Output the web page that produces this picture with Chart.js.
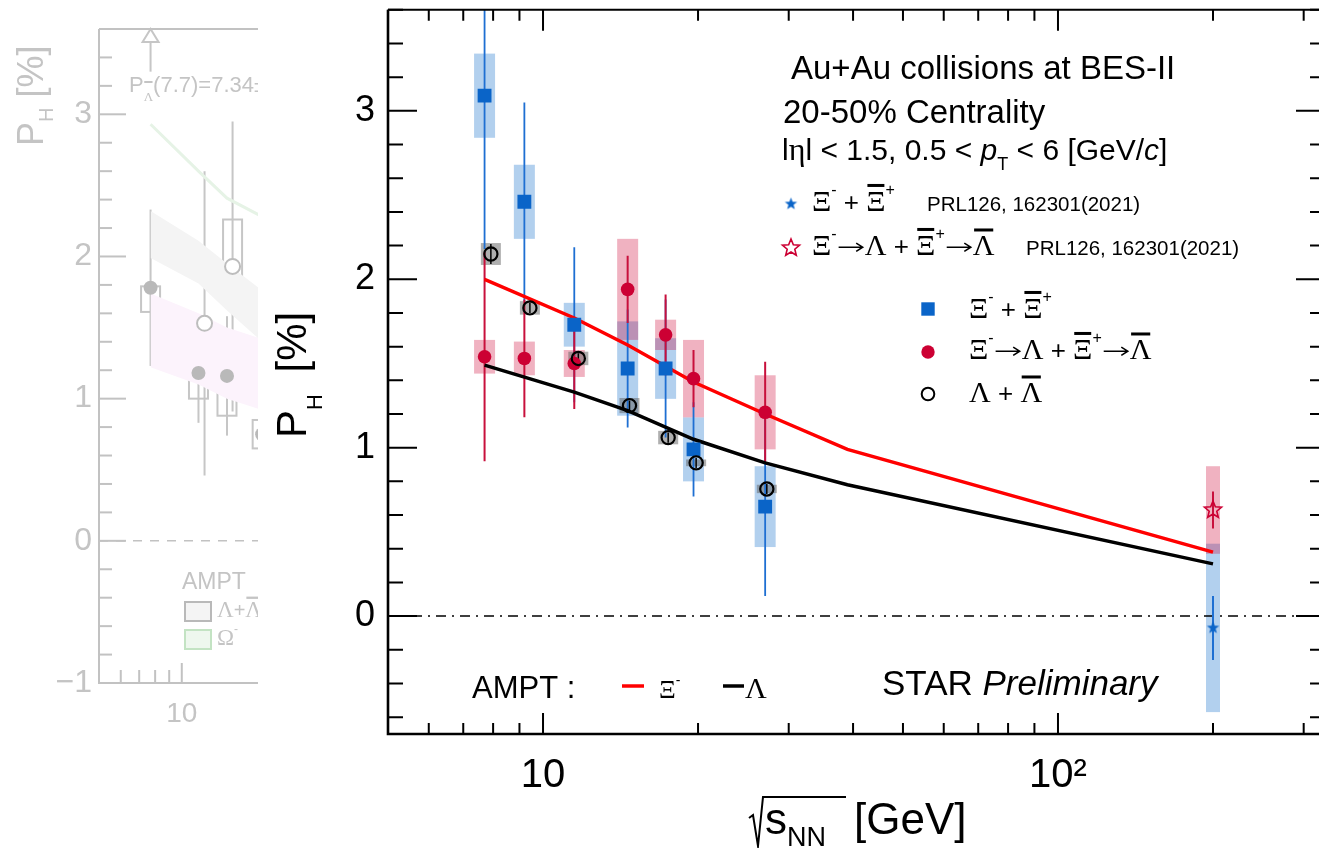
<!DOCTYPE html>
<html>
<head>
<meta charset="utf-8">
<script src="https://cdn.jsdelivr.net/npm/chart.js@4.4.1/dist/chart.umd.min.js"></script>
<style>
  html, body { margin: 0; padding: 0; background: #fff; overflow: hidden; width: 1319px; height: 848px; }
  #ghostBox { position: absolute; left: 0; top: 0; width: 258px; height: 848px; overflow: hidden; }
  #ghost { position: absolute; left: 0; top: 0; }
  #main { position: absolute; left: 258px; top: 0; }
</style>
</head>
<body>
<div id="ghostBox"><canvas id="ghost" width="660" height="848"></canvas></div>
<canvas id="main" width="1080" height="848"></canvas>
<script>
const SANS = '"Liberation Sans", Arial, Helvetica, sans-serif';
const SERIF = '"Liberation Serif", "DejaVu Serif", "Times New Roman", serif';

// ---------- STAR BES-II points (sqrt(s_NN) in GeV, P_H in %) ----------
const energy = [7.7, 9.2, 11.5, 14.6, 17.3, 19.6, 27];
const xiPol  = [3.09, 2.46, 1.73, 1.47, 1.47, 0.99, 0.65];
const xiStat = [0.91, 0.59, 0.46, 0.35, 0.41, 0.28, 0.53];
const xiSys  = [0.25, 0.22, 0.13, 0.28, 0.18, 0.19, 0.24];

const xiLamPol  = [1.54, 1.53, 1.50, 1.94, 1.67, 1.41, 1.21];
const xiLamStat = [0.62, 0.35, 0.27, 0.20, 0.24, 0.17, 0.30];
const xiLamSys  = [0.10, 0.10, 0.08, 0.30, 0.09, 0.23, 0.22];

// Lambda points sit a little to the right of the nominal energies
const lamEnergy = [7.92, 9.43, 11.71, 14.72, 17.5, 19.83, 27.2];
const lamPol  = [2.15, 1.83, 1.53, 1.25, 1.06, 0.91, 0.755];
const lamStat = [0.06, 0.03, 0.03, 0.03, 0.03, 0.03, 0.03];
const lamSys  = [0.065, 0.04, 0.04, 0.045, 0.04, 0.02, 0.025];

// PRL126, 162301(2021), 200 GeV
const prlEnergy = [200];
const prlXiPol = [-0.07], prlXiStat = [0.19], prlXiSys = [0.50];
const prlXiLamPol = [0.63], prlXiLamStat = [0.11], prlXiLamSys = [0.26];

// AMPT curves
const amptEnergy = [7.7, 11.5, 14.6, 19.6, 27, 39, 200];
const amptXi  = [2.00, 1.77, 1.61, 1.39, 1.20, 0.99, 0.38];
const amptLam = [1.49, 1.33, 1.22, 1.05, 0.91, 0.78, 0.31];

const xTicks = [10, 100];
const xTickLabels = ['10', '10²'];
const yTicks = [0, 1, 2, 3];
const yTickLabels = ['0', '1', '2', '3'];

// ---------- faded panel on the left ----------
const gFilledE = [7.7, 11.5, 14.6, 19.6];
const gFilledP = [1.78, 1.18, 1.16, 0.75];
const gFilledStat = [0.55, 0.35, 0.42, 0.40];
const gFilledLo = [1.61, 1.00, 0.88, 0.65];
const gFilledHi = [1.79, 1.17, 1.15, 0.85];
const gOpenE = [12.1, 15.3];
const gOpenP = [1.53, 1.93];
const gOpenStat = [1.07, 1.02];
const gOpenLo = [1.40, 1.80];
const gOpenHi = [1.53, 2.26];
const gBandE = [7.7, 11.5, 14.6, 19.6];
const gGreyHi = [2.32, 2.11, 1.95, 1.76];
const gGreyLo = [1.99, 1.81, 1.62, 1.40];
const gPinkHi = [1.74, 1.60, 1.50, 1.42];
const gPinkLo = [1.22, 1.10, 1.00, 0.92];
const gGreen  = [2.93, 2.60, 2.41, 2.28];
const gYTicks = [-1, 0, 1, 2, 3];
const gYTickLabels = ['\u22121', '0', '1', '2', '3'];
const gXTicks = [10];

const OX = 258; // page x of the main canvas

const pts = (xs, ys) => xs.map((x, i) => ({ x, y: ys[i] }));

function makeStar(outer, inner, fill, stroke, lw) {
  const s = Math.ceil(2 * outer + lw + 2);
  const c = document.createElement('canvas');
  c.width = c.height = s;
  const g = c.getContext('2d');
  g.beginPath();
  for (let i = 0; i < 10; i++) {
    const r = i % 2 ? inner : outer;
    const a = -Math.PI / 2 + i * Math.PI / 5;
    g.lineTo(s / 2 + r * Math.cos(a), s / 2 + r * Math.sin(a));
  }
  g.closePath();
  if (fill) { g.fillStyle = fill; g.fill(); }
  if (stroke) { g.strokeStyle = stroke; g.lineWidth = lw; g.stroke(); }
  return c;
}
const blueStar = makeStar(6.5, 2.7, '#0a64c8', null, 0);
const redStar = makeStar(9, 4, null, '#cc0033', 1.6);

// draw a run of text pieces (sub/superscripts, greek, overbars, arrows)
function runs(ctx, x, y, parts, size) {
  let cx = x;
  for (const p of parts) {
    const fs = p.sz || size;
    if (p.arrow) {
      const ay = y - fs * 0.3, x0 = cx + 2, x1 = cx + p.w - 2;
      ctx.save();
      ctx.strokeStyle = ctx.fillStyle;
      ctx.lineWidth = Math.max(1.4, fs * 0.06);
      ctx.beginPath();
      ctx.moveTo(x0, ay); ctx.lineTo(x1, ay);
      ctx.moveTo(x1 - fs * 0.25, ay - fs * 0.16); ctx.lineTo(x1, ay); ctx.lineTo(x1 - fs * 0.25, ay + fs * 0.16);
      ctx.stroke();
      ctx.restore();
      cx += p.w;
      continue;
    }
    ctx.font = (p.it ? 'italic ' : '') + fs + 'px ' + (p.serif ? SERIF : SANS);
    const w = ctx.measureText(p.t).width;
    ctx.fillText(p.t, cx, y + (p.dy || 0));
    if (p.bar) ctx.fillRect(cx + w * 0.06, y - p.bar, w * 0.88, Math.max(2, fs * 0.1));
    cx += w + (p.gap || 0);
  }
  return cx;
}

function formula(tokens, size) {
  const gs = Math.round(size * 1.16);
  const sup = Math.round(size * 0.62), dy = -size * 0.6;
  return tokens.map(t => {
    switch (t) {
      case 'Xi': return { t: 'Ξ', serif: true, sz: gs };
      case 'XiBar': return { t: 'Ξ', serif: true, sz: gs, bar: size * 1.04 };
      case 'Lam': return { t: 'Λ', serif: true, sz: gs };
      case 'LamBar': return { t: 'Λ', serif: true, sz: gs, bar: size * 1.02 };
      case 'Om': return { t: 'Ω', serif: true, sz: gs };
      case '^-': return { t: '-', sz: sup, dy };
      case '^+': return { t: '+', sz: sup, dy };
      case '->': return { arrow: true, w: size * 1.08, sz: size };
      default: return { t: t, sz: size };
    }
  });
}

function minorLog(min, max) {
  const out = [];
  for (let d = Math.pow(10, Math.floor(Math.log10(min))); d <= max; d *= 10) {
    for (let m = 1; m < 10; m++) {
      const v = m * d;
      if (v >= min && v <= max) out.push({ v, major: m === 1 });
    }
  }
  return out;
}

function frame(chart, o) {
  const { ctx, chartArea: a, scales: { x, y } } = chart;
  ctx.save();
  ctx.strokeStyle = o.color;
  ctx.lineCap = 'butt';
  ctx.lineWidth = o.tickW;
  for (let k = Math.ceil(y.min / 0.2 - 1e-6); k * 0.2 <= y.max + 1e-6; k++) {
    const py = y.getPixelForValue(k * 0.2);
    const len = k % 5 === 0 ? o.yMajor : o.yMinor;
    ctx.beginPath();
    ctx.moveTo(a.left, py); ctx.lineTo(a.left + len, py);
    if (o.right) { ctx.moveTo(a.right, py); ctx.lineTo(a.right - len, py); }
    ctx.stroke();
  }
  for (const t of minorLog(x.min, x.max)) {
    const px = x.getPixelForValue(t.v);
    const len = t.major ? o.xMajor : o.xMinor;
    ctx.beginPath();
    ctx.moveTo(px, a.bottom); ctx.lineTo(px, a.bottom - len);
    if (o.top) { ctx.moveTo(px, a.top); ctx.lineTo(px, a.top + len); }
    ctx.stroke();
  }
  ctx.lineWidth = o.axisW;
  ctx.beginPath();
  ctx.moveTo(a.left, a.top); ctx.lineTo(a.left, a.bottom); ctx.lineTo(a.right, a.bottom);
  ctx.stroke();
  ctx.lineWidth = o.topW;
  ctx.beginPath();
  ctx.moveTo(a.left, a.top); ctx.lineTo(a.right, a.top);
  if (o.right) ctx.lineTo(a.right, a.bottom);
  ctx.stroke();
  ctx.restore();
}

// keep Chart.js from reserving room for label overhang
const noPad = s => { s.paddingTop = 0; s.paddingBottom = 0; s.paddingLeft = 0; s.paddingRight = 0; };

// ---------- main chart ----------
const boxSeries = [
  { x: energy, y: xiPol, sys: xiSys, fill: 'rgba(0,100,200,0.30)', half: 10.5 },
  { x: energy, y: xiLamPol, sys: xiLamSys, fill: 'rgba(204,0,51,0.30)', half: 10.5 },
  { x: lamEnergy, y: lamPol, sys: lamSys, fill: 'rgba(95,95,95,0.50)', half: 10 },
  { x: prlEnergy, y: prlXiPol, sys: prlXiSys, fill: 'rgba(0,100,200,0.30)', half: 7 },
  { x: prlEnergy, y: prlXiLamPol, sys: prlXiLamSys, fill: 'rgba(204,0,51,0.30)', half: 7 }
];
const barSeries = [
  { x: energy, y: xiPol, err: xiStat, color: '#1e6fd2', w: 1.8 },
  { x: energy, y: xiLamPol, err: xiLamStat, color: '#c8103c', w: 2 },
  { x: lamEnergy, y: lamPol, err: lamStat, color: '#000', w: 1.5 },
  { x: prlEnergy, y: prlXiPol, err: prlXiStat, color: '#1e6fd2', w: 2 },
  { x: prlEnergy, y: prlXiLamPol, err: prlXiLamStat, color: '#c8103c', w: 2 }
];

const mainDecor = {
  id: 'mainDecor',
  beforeDatasetsDraw(chart) {
    const { ctx, chartArea: a, scales: { x, y } } = chart;
    ctx.save();
    ctx.beginPath();
    ctx.rect(a.left, a.top, a.right - a.left, a.bottom - a.top);
    ctx.clip();
    for (const s of boxSeries) {
      ctx.fillStyle = s.fill;
      s.x.forEach((e, i) => {
        const px = x.getPixelForValue(e);
        const t = y.getPixelForValue(s.y[i] + s.sys[i]);
        const b = y.getPixelForValue(s.y[i] - s.sys[i]);
        ctx.fillRect(px - s.half, t, 2 * s.half, b - t);
      });
    }
    // dash-dotted zero line
    const y0 = y.getPixelForValue(0);
    ctx.strokeStyle = '#000';
    ctx.lineWidth = 1.5;
    ctx.setLineDash([10, 6, 2, 6]);
    ctx.beginPath();
    ctx.moveTo(a.left, y0); ctx.lineTo(a.right, y0);
    ctx.stroke();
    ctx.setLineDash([]);
    for (const s of barSeries) {
      ctx.strokeStyle = s.color;
      ctx.lineWidth = s.w;
      s.x.forEach((e, i) => {
        const px = x.getPixelForValue(e);
        ctx.beginPath();
        ctx.moveTo(px, y.getPixelForValue(s.y[i] + s.err[i]));
        ctx.lineTo(px, y.getPixelForValue(s.y[i] - s.err[i]));
        ctx.stroke();
      });
    }
    ctx.restore();
  },
  afterDraw(chart) {
    const { ctx } = chart;
    frame(chart, { color: '#000', tickW: 2, axisW: 2.6, topW: 2, yMajor: 29, yMinor: 15, xMajor: 21, xMinor: 11, top: true, right: true });
    const X = v => v - OX;
    ctx.save();
    ctx.fillStyle = '#000';
    ctx.textBaseline = 'alphabetic';

    // y title, rotated
    ctx.save();
    ctx.translate(X(306), 438);
    ctx.rotate(-Math.PI / 2);
    runs(ctx, 0, 0, [{ t: 'P', sz: 42 }, { t: 'H', sz: 22, dy: 16, gap: 10 }, { t: ' [%]', sz: 42 }], 42);
    ctx.restore();

    // x title with radical
    ctx.strokeStyle = '#000';
    ctx.lineWidth = 2;
    ctx.beginPath();
    ctx.moveTo(X(749), 818); ctx.lineTo(X(753), 815); ctx.lineTo(X(758), 846);
    ctx.lineTo(X(763), 797); ctx.lineTo(X(846), 797);
    ctx.stroke();
    runs(ctx, X(765), 834, [{ t: 's', sz: 44 }, { t: 'NN', sz: 27, dy: 12 }], 44);
    runs(ctx, X(854), 834, [{ t: '[GeV]', sz: 44 }], 44);

    // header
    runs(ctx, X(791), 79, [{ t: 'Au+Au collisions at BES-II' }], 33);
    runs(ctx, X(783), 123, [{ t: '20-50% Centrality' }], 33);
    runs(ctx, X(782), 160, [
      { t: 'l' }, { t: 'η', serif: true, sz: 32 }, { t: 'l < 1.5, 0.5 < ' },
      { t: 'p', it: true }, { t: 'T', sz: 18, dy: 10 }, { t: ' < 6 [GeV/' }, { t: 'c', it: true }, { t: ']' }
    ], 30);

    // PRL legend
    ctx.drawImage(blueStar, X(791) - blueStar.width / 2, 204 - blueStar.height / 2);
    runs(ctx, X(812), 211, formula(['Xi', '^-', ' + ', 'XiBar', '^+'], 26), 26);
    runs(ctx, X(927), 211, [{ t: 'PRL126, 162301(2021)' }], 20.5);
    ctx.drawImage(redStar, X(791) - redStar.width / 2, 248 - redStar.height / 2);
    runs(ctx, X(812), 255, formula(['Xi', '^-', '->', 'Lam', ' + ', 'XiBar', '^+', '->', 'LamBar'], 26), 26);
    runs(ctx, X(1026), 255, [{ t: 'PRL126, 162301(2021)' }], 20.5);

    // BES-II legend
    ctx.fillStyle = '#0a64c8';
    ctx.fillRect(X(928) - 6.7, 309 - 6.7, 13.4, 13.4);
    ctx.fillStyle = '#cc0033';
    ctx.beginPath(); ctx.arc(X(928), 352, 6.7, 0, 2 * Math.PI); ctx.fill();
    ctx.strokeStyle = '#000'; ctx.lineWidth = 2;
    ctx.beginPath(); ctx.arc(X(928), 394, 6.3, 0, 2 * Math.PI); ctx.stroke();
    ctx.fillStyle = '#000';
    runs(ctx, X(969), 318, formula(['Xi', '^-', ' + ', 'XiBar', '^+'], 26), 26);
    runs(ctx, X(969), 359, formula(['Xi', '^-', '->', 'Lam', ' + ', 'XiBar', '^+', '->', 'LamBar'], 26), 26);
    runs(ctx, X(969), 402, formula(['Lam', ' + ', 'LamBar'], 26), 26);

    // AMPT legend
    runs(ctx, X(472), 698, [{ t: 'AMPT :' }], 31);
    ctx.lineWidth = 3.5;
    ctx.strokeStyle = '#ff0000';
    ctx.beginPath(); ctx.moveTo(X(622), 686); ctx.lineTo(X(644), 686); ctx.stroke();
    ctx.strokeStyle = '#000';
    ctx.beginPath(); ctx.moveTo(X(723), 686); ctx.lineTo(X(744), 686); ctx.stroke();
    runs(ctx, X(659), 698, formula(['Xi', '^-'], 22), 22);
    runs(ctx, X(745), 698, formula(['Lam'], 26), 26);

    // STAR Preliminary
    runs(ctx, X(882), 695, [{ t: 'STAR ' }, { t: 'Preliminary', it: true }], 35);
    ctx.restore();
  }
};

new Chart(document.getElementById('main'), {
  type: 'scatter',
  data: {
    datasets: [
      { label: 'AMPT Xi', data: pts(amptEnergy, amptXi), showLine: true, borderColor: '#ff0000', borderWidth: 3.5, pointRadius: 0, tension: 0, order: 2 },
      { label: 'AMPT Lambda', data: pts(amptEnergy, amptLam), showLine: true, borderColor: '#000', borderWidth: 3.5, pointRadius: 0, tension: 0, order: 2 },
      { label: 'Xi', data: pts(energy, xiPol), pointStyle: 'rect', pointRadius: 9.8, backgroundColor: '#0a64c8', borderWidth: 0, order: 1 },
      { label: 'Xi to Lambda', data: pts(energy, xiLamPol), pointStyle: 'circle', pointRadius: 6.8, backgroundColor: '#cc0033', borderWidth: 0, order: 1 },
      { label: 'Lambda', data: pts(lamEnergy, lamPol), pointStyle: 'circle', pointRadius: 6.6, backgroundColor: 'rgba(0,0,0,0)', borderColor: '#000', borderWidth: 2.2, order: 0 },
      { label: 'PRL Xi', data: pts(prlEnergy, prlXiPol), pointStyle: blueStar, order: 0 },
      { label: 'PRL Xi to Lambda', data: pts(prlEnergy, prlXiLamPol), pointStyle: redStar, order: 0 }
    ]
  },
  options: {
    responsive: false,
    devicePixelRatio: 1,
    animation: false,
    events: [],
    layout: { padding: { top: 7, right: 13, left: 0, bottom: 0 } },
    plugins: { legend: { display: false }, tooltip: { enabled: false } },
    scales: {
      x: {
        type: 'logarithmic', min: 5, max: 330,
        afterBuildTicks: s => { s.ticks = xTicks.map(v => ({ value: v })); },
        afterFit: s => { s.height = 114; noPad(s); },
        grid: { display: false, drawTicks: false },
        border: { display: false },
        ticks: {
          autoSkip: false, maxRotation: 0, padding: 18, color: '#000',
          font: { family: SANS, size: 40 },
          callback: v => xTickLabels[xTicks.indexOf(v)] ?? ''
        }
      },
      y: {
        min: -0.7, max: 3.6,
        afterBuildTicks: s => { s.ticks = yTicks.map(v => ({ value: v })); },
        afterFit: s => { s.width = 130; noPad(s); },
        grid: { display: false, drawTicks: false },
        border: { display: false },
        ticks: {
          padding: 13, color: '#000',
          font: { family: SANS, size: 36 },
          callback: v => yTickLabels[yTicks.indexOf(v)] ?? ''
        }
      }
    }
  },
  plugins: [mainDecor]
});

// ---------- faded left panel ----------
const GC = '#c2c2c2';
const ghostDecor = {
  id: 'ghostDecor',
  beforeDatasetsDraw(chart) {
    const { ctx, chartArea: a, scales: { x, y } } = chart;
    ctx.save();
    const y0 = y.getPixelForValue(0);
    ctx.strokeStyle = GC; ctx.lineWidth = 1.5;
    ctx.setLineDash([9, 8]);
    ctx.beginPath(); ctx.moveTo(a.left, y0); ctx.lineTo(a.right, y0); ctx.stroke();
    ctx.setLineDash([]);
    ctx.lineWidth = 2;
    const boxes = (xs, lo, hi) => xs.forEach((e, i) => {
      const px = x.getPixelForValue(e);
      const t = y.getPixelForValue(hi[i]), b = y.getPixelForValue(lo[i]);
      ctx.strokeRect(px - 9.5, t, 19, b - t);
    });
    const bars = (xs, ys, er) => xs.forEach((e, i) => {
      const px = x.getPixelForValue(e);
      ctx.beginPath();
      ctx.moveTo(px, y.getPixelForValue(ys[i] + er[i]));
      ctx.lineTo(px, y.getPixelForValue(ys[i] - er[i]));
      ctx.stroke();
    });
    ctx.strokeStyle = '#c6c6c6';
    boxes(gFilledE, gFilledLo, gFilledHi);
    boxes(gOpenE, gOpenLo, gOpenHi);
    bars(gFilledE, gFilledP, gFilledStat);
    bars(gOpenE, gOpenP, gOpenStat);
    // arrow for the off-scale point
    const ax = x.getPixelForValue(7.7);
    ctx.beginPath(); ctx.moveTo(ax, y.getPixelForValue(3.3)); ctx.lineTo(ax, a.top + 13); ctx.stroke();
    ctx.beginPath(); ctx.moveTo(ax, a.top); ctx.lineTo(ax - 8, a.top + 13); ctx.lineTo(ax + 8, a.top + 13); ctx.closePath(); ctx.stroke();
    ctx.restore();
  },
  afterDraw(chart) {
    const { ctx } = chart;
    frame(chart, { color: GC, tickW: 2, axisW: 2, topW: 2, yMajor: 27, yMinor: 13, xMajor: 20, xMinor: 13, top: false, right: false });
    ctx.save();
    ctx.fillStyle = '#c4c4c4';
    ctx.save();
    ctx.translate(43, 146);
    ctx.rotate(-Math.PI / 2);
    runs(ctx, 0, 0, [{ t: 'P', sz: 36 }, { t: 'H', sz: 20, dy: 10 }, { t: ' [%]', sz: 36 }], 36);
    ctx.restore();
    runs(ctx, 129, 92, [{ t: 'P' }, { t: 'Λ', serif: true, sz: 13, dy: 9, bar: 11 }, { t: '(7.7)=7.34±0.4' }], 22);
    runs(ctx, 182, 589, [{ t: 'AMPT' }], 23);
    ctx.lineWidth = 2;
    ctx.fillStyle = '#f4f4f4'; ctx.strokeStyle = '#b9b9b9';
    ctx.fillRect(185, 602, 26, 19); ctx.strokeRect(185, 602, 26, 19);
    ctx.fillStyle = '#eef7ee'; ctx.strokeStyle = '#c3e3c3';
    ctx.fillRect(185, 630, 26, 19); ctx.strokeRect(185, 630, 26, 19);
    ctx.fillStyle = '#c4c4c4';
    runs(ctx, 217, 617, formula(['Lam', '+', 'LamBar'], 20), 20);
    runs(ctx, 217, 645, formula(['Om', '^-'], 20), 20);
    ctx.restore();
  }
};

new Chart(document.getElementById('ghost'), {
  type: 'scatter',
  data: {
    datasets: [
      { data: pts(gBandE, gGreyHi), showLine: true, borderWidth: 0, pointRadius: 0, fill: '+1', backgroundColor: '#f4f4f4', order: 5 },
      { data: pts(gBandE, gGreyLo), showLine: true, borderWidth: 0, pointRadius: 0, fill: false, order: 5 },
      { data: pts(gBandE, gPinkHi), showLine: true, borderWidth: 0, pointRadius: 0, fill: '+1', backgroundColor: '#fcf3fc', order: 5 },
      { data: pts(gBandE, gPinkLo), showLine: true, borderWidth: 0, pointRadius: 0, fill: false, order: 5 },
      { data: pts(gBandE, gGreen), showLine: true, borderColor: '#e6f3e6', borderWidth: 3, pointRadius: 0, order: 5 },
      { data: pts(gFilledE, gFilledP), pointStyle: 'circle', pointRadius: 7, backgroundColor: '#b9b9b9', borderWidth: 0, order: 0 },
      { data: pts(gOpenE, gOpenP), pointStyle: 'circle', pointRadius: 7.5, backgroundColor: '#fff', borderColor: '#bdbdbd', borderWidth: 2, order: 0 }
    ]
  },
  options: {
    responsive: false,
    devicePixelRatio: 1,
    animation: false,
    events: [],
    layout: { padding: { top: 29, right: 11, left: 0, bottom: 0 } },
    plugins: { legend: { display: false }, tooltip: { enabled: false } },
    scales: {
      x: {
        type: 'logarithmic', min: 5, max: 500,
        afterBuildTicks: s => { s.ticks = gXTicks.map(v => ({ value: v })); },
        afterFit: s => { s.height = 165; noPad(s); },
        grid: { display: false, drawTicks: false },
        border: { display: false },
        ticks: { autoSkip: false, maxRotation: 0, padding: 14, color: '#c4c4c4', font: { family: SANS, size: 28 }, callback: v => String(v) }
      },
      y: {
        min: -1, max: 3.6,
        afterBuildTicks: s => { s.ticks = gYTicks.map(v => ({ value: v })); },
        afterFit: s => { s.width = 99; noPad(s); },
        grid: { display: false, drawTicks: false },
        border: { display: false },
        ticks: { padding: 7, color: '#c4c4c4', font: { family: SANS, size: 32 }, callback: v => gYTickLabels[gYTicks.indexOf(v)] ?? '' }
      }
    }
  },
  plugins: [ghostDecor]
});
</script>
</body>
</html>
